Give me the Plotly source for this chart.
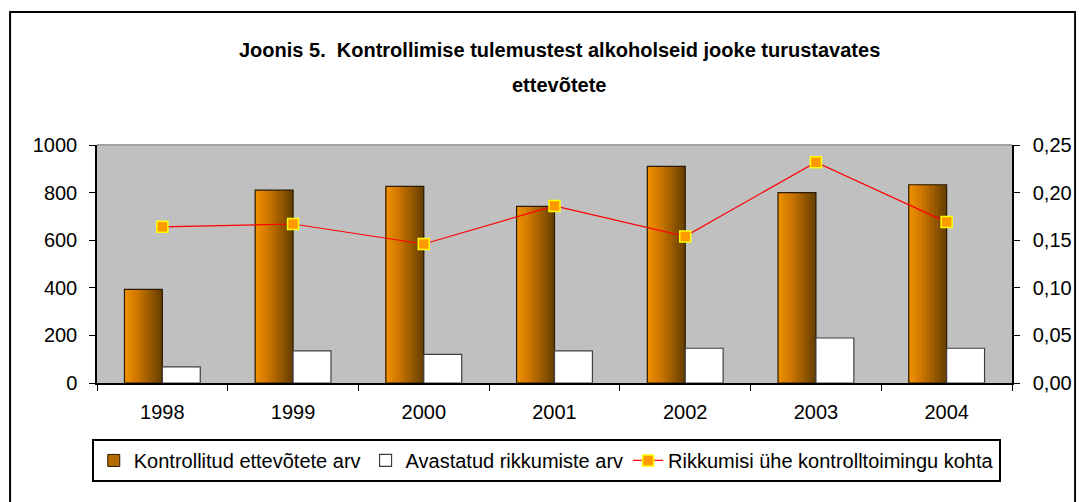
import plotly.graph_objects as go

years = ["1998", "1999", "2000", "2001", "2002", "2003", "2004"]
kontrollitud = [393, 810, 826, 742, 910, 800, 833]
rikkumised = [68, 135, 120, 135, 146, 189, 146]
rikkumisi_kohta = [0.164, 0.167, 0.146, 0.186, 0.154, 0.232, 0.169]

left_ticks = [0, 200, 400, 600, 800, 1000]
right_ticks = [0, 0.05, 0.10, 0.15, 0.20, 0.25]
right_labels = ["0,00", "0,05", "0,10", "0,15", "0,20", "0,25"]

FONT = "Liberation Sans, Arial, sans-serif"
BW = 0.29  # bar width in category units

def mix(c1, c2, t):
    return "rgb(%d,%d,%d)" % tuple(round(a + (b - a) * t) for a, b in zip(c1, c2))

fig = go.Figure()

# legend entry for the brown bars (no data, just the swatch)
fig.add_trace(go.Bar(
    x=years, y=[None] * len(years), name="Kontrollitud ettevõtete arv",
    marker=dict(color="#B36B00", line=dict(color="#2a1a00", width=1)),
))

# brown bars drawn as thin vertical slices to fake the excel gradient
n = 24
for i in range(n):
    t = i / (n - 1)
    if t < 0.35:
        col = mix((240, 145, 0), (205, 118, 0), t / 0.35)
    else:
        col = mix((205, 118, 0), (105, 64, 0), (t - 0.35) / 0.65)
    fig.add_trace(go.Bar(
        x=years, y=kontrollitud, width=BW / n, offset=-BW + i * BW / n,
        marker=dict(color=col, line=dict(width=0)),
        showlegend=False, hoverinfo="skip",
    ))

# outline of the brown bars
fig.add_trace(go.Bar(
    x=years, y=kontrollitud, width=BW, offset=-BW, showlegend=False,
    name="Kontrollitud ettevõtete arv",
    marker=dict(color="rgba(0,0,0,0)", line=dict(color="#2a1a00", width=1.2)),
))

fig.add_trace(go.Bar(
    x=years, y=rikkumised, width=BW, offset=0,
    name="Avastatud rikkumiste arv",
    marker=dict(color="white", line=dict(color="#404040", width=1.2)),
))

fig.add_trace(go.Scatter(
    x=years, y=rikkumisi_kohta, yaxis="y2", mode="lines+markers",
    name="Rikkumisi ühe kontrolltoimingu kohta",
    line=dict(color="#FF0000", width=1.2),
    marker=dict(symbol="square", size=11, color="#FF9900",
                line=dict(color="#FFFF00", width=1.5)),
))

# page body has an 8px margin, so the figure is sized/shifted for that
fig.update_layout(
    width=1076, height=494,
    margin=dict(l=89, r=63, t=137, b=119),
    barmode="overlay",
    paper_bgcolor="white",
    plot_bgcolor="#C0C0C0",
    font=dict(family=FONT, size=20, color="black"),
    showlegend=True,
    legend=dict(
        orientation="h", x=0.491, xanchor="center", y=-0.235, yanchor="top",
        bordercolor="black", borderwidth=2, bgcolor="white",
        font=dict(family=FONT, size=20), traceorder="normal",
    ),
    xaxis=dict(
        type="category", tickson="boundaries", ticks="outside", ticklen=6,
        tickcolor="black", showline=True, linecolor="black", linewidth=1.5,
        showgrid=False, ticklabelstandoff=10,
    ),
    yaxis=dict(
        range=[0, 1000], tickvals=left_ticks, ticks="outside", ticklen=6,
        tickcolor="black", showline=True, linecolor="black", linewidth=1.5,
        showgrid=False, zeroline=False, ticklabelstandoff=8,
    ),
    yaxis2=dict(
        range=[0, 0.25], overlaying="y", side="right", tickvals=right_ticks,
        ticktext=right_labels, ticks="outside", ticklen=6, tickcolor="black",
        showline=True, linecolor="black", linewidth=1.5, showgrid=False,
        zeroline=False, ticklabelstandoff=9,
    ),
)

# grey top edge of plot area
fig.add_shape(type="line", xref="paper", yref="paper", x0=0, x1=1, y0=1, y1=1,
              line=dict(color="#A0A0A0", width=2))
# outer chart border
fig.add_shape(type="rect", xref="paper", yref="paper",
              x0=-0.095, x1=1.069, y0=-0.53, y1=1.559,
              line=dict(color="black", width=2), layer="above")

fig.add_annotation(text="<b>Joonis 5.  Kontrollimise tulemustest alkoholseid jooke turustavates</b>",
                   xref="paper", yref="paper", x=0.505, y=1.399, yanchor="middle",
                   showarrow=False, font=dict(family=FONT, size=20))
fig.add_annotation(text="<b>ettevõtete</b>",
                   xref="paper", yref="paper", x=0.505, y=1.252, yanchor="middle",
                   showarrow=False, font=dict(family=FONT, size=20))

fig.write_html("out.html")
